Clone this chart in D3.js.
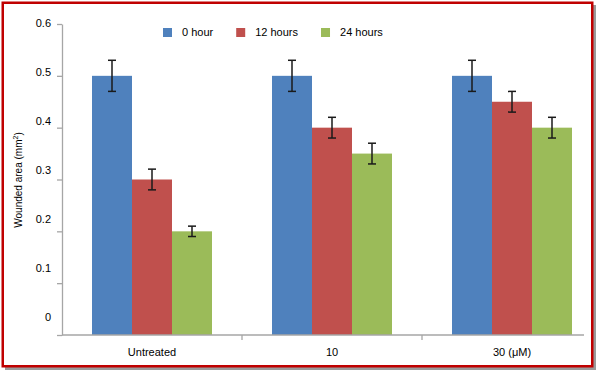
<!DOCTYPE html>
<html>
<head>
<meta charset="utf-8">
<script src="https://cdn.jsdelivr.net/npm/d3@7"></script>
<style>
body{margin:0;background:#fff}
text{font-family:Arial,"Liberation Sans",sans-serif;fill:#000}
</style>
</head>
<body>
<svg id="chart"></svg>
<script>
/* données du graphique */
const categories = ['Untreated', '10', '30 (μM)']
const series = ['0 hour', '12 hours', '24 hours']
const hour0 = [0.5, 0.5, 0.5]
const hour12 = [0.3, 0.4, 0.45]
const hour24 = [0.2, 0.35, 0.4]
const err0 = [0.03, 0.03, 0.03]
const err12 = [0.02, 0.02, 0.02]
const err24 = [0.01, 0.02, 0.02]
const yTicks = [0, 0.1, 0.2, 0.3, 0.4, 0.5, 0.6]
const colors = ['#4F81BD', '#C0504D', '#9BBB59']

const width = 600, height = 374
const margin = {top: 24, right: 16, bottom: 39, left: 62}
const axisColor = '#a6a6a6'

const svg = d3.select('#chart').attr('width', width).attr('height', height)

/* cadre rouge avec ombre */
svg.append('rect')
    .attr('x', 5).attr('y', 5).attr('width', 591).attr('height', 365)
    .attr('fill', '#9a9a9a')
svg.append('rect')
    .attr('x', 2.75).attr('y', 2.75).attr('width', 589.5).attr('height', 363.5)
    .attr('fill', '#fff').attr('stroke', '#c00000').attr('stroke-width', 2.5)

const allValues = [hour0, hour12, hour24]
const allErrors = [err0, err12, err24]
const data = []
categories.forEach((c, i) => {
    series.forEach((s, j) => {
        data.push({cat: c, serie: s, value: allValues[j][i], err: allErrors[j][i], color: colors[j]})
    })
})

/* échelles */
const xScale = d3.scaleBand()
    .domain(categories)
    .range([margin.left, 602])
    .paddingInner(1 / 3)
    .paddingOuter(1 / 6)

const xSub = d3.scaleBand()
    .domain(series)
    .range([0, xScale.bandwidth()])

const yScale = d3.scaleLinear()
    .domain([0, 0.6])
    .range([height - margin.bottom, margin.top])

// les étiquettes de l'axe y sont un peu décalées par rapport aux graduations
const yLabelScale = d3.scaleLinear()
    .domain([0, 0.6])
    .range([317, 23])

/* barres */
svg.append('g').selectAll('rect')
    .data(data)
    .enter()
    .append('rect')
    .attr('x', d => xScale(d.cat) + xSub(d.serie))
    .attr('y', d => yScale(d.value))
    .attr('width', xSub.bandwidth())
    .attr('height', d => yScale(0) - yScale(d.value))
    .attr('fill', d => d.color)

/* axe y */
svg.append('g')
    .attr('transform', 'translate(' + margin.left + ',0)')
    .call(d3.axisLeft(yScale).tickValues(yTicks).tickSize(5).tickSizeOuter(0).tickFormat(''))
    .call(g => g.selectAll('line,path').attr('stroke', axisColor).attr('stroke-width', 1.3))

svg.append('g')
    .attr('transform', 'translate(' + margin.left + ',0)')
    .call(d3.axisLeft(yLabelScale).tickValues(yTicks).tickSize(0).tickPadding(11).tickFormat(d => String(d)))
    .call(g => g.select('.domain').remove())
    .call(g => g.selectAll('text').attr('font-size', 11).attr('font-family', 'Arial, "Liberation Sans", sans-serif').attr('fill', '#000'))

/* axe x */
const xBase = yScale(0)
svg.append('line')
    .attr('x1', margin.left).attr('x2', 584)
    .attr('y1', xBase).attr('y2', xBase)
    .attr('stroke', axisColor).attr('stroke-width', 1.3)

svg.append('g').selectAll('line')
    .data(categories.slice(1))
    .enter()
    .append('line')
    .attr('x1', d => xScale(d) - xScale.step() * xScale.paddingInner() / 2)
    .attr('x2', d => xScale(d) - xScale.step() * xScale.paddingInner() / 2)
    .attr('y1', xBase).attr('y2', xBase + 5)
    .attr('stroke', axisColor).attr('stroke-width', 1.3)

svg.append('g')
    .attr('transform', 'translate(0,' + xBase + ')')
    .call(d3.axisBottom(xScale).tickSize(0).tickPadding(13))
    .call(g => g.select('.domain').remove())
    .call(g => g.selectAll('text').attr('font-size', 11).attr('font-family', 'Arial, "Liberation Sans", sans-serif').attr('fill', '#000'))

/* barres d'erreur */
const errG = svg.append('g')
    .attr('stroke', '#1a1a1a')
    .attr('stroke-width', 1.5)
const capW = 4
data.forEach(d => {
    const cx = xScale(d.cat) + xSub(d.serie) + xSub.bandwidth() / 2
    const yTop = yScale(d.value + d.err)
    const yBot = yScale(d.value - d.err)
    errG.append('line').attr('x1', cx).attr('x2', cx).attr('y1', yTop).attr('y2', yBot)
    errG.append('line').attr('x1', cx - capW).attr('x2', cx + capW).attr('y1', yTop).attr('y2', yTop)
    errG.append('line').attr('x1', cx - capW).attr('x2', cx + capW).attr('y1', yBot).attr('y2', yBot)
})

/* titre de l'axe y */
const yTitle = svg.append('text')
    .attr('transform', 'rotate(-90)')
    .attr('x', -180)
    .attr('y', 22)
    .attr('text-anchor', 'middle')
    .attr('font-size', 10)
yTitle.append('tspan').text('Wounded area (mm')
yTitle.append('tspan').attr('font-size', 7).attr('dy', -4).text('2')
yTitle.append('tspan').attr('dy', 4).text(')')

/* légende */
const legend = svg.append('g')
let lx = 163
series.forEach((s, j) => {
    legend.append('rect')
        .attr('x', lx).attr('y', 28)
        .attr('width', 9).attr('height', 9)
        .attr('fill', colors[j])
    const t = legend.append('text')
        .attr('x', lx + 19).attr('y', 36)
        .attr('font-size', 11)
        .text(s)
    lx += 19 + t.node().getComputedTextLength() + 23
})
</script>
</body>
</html>
